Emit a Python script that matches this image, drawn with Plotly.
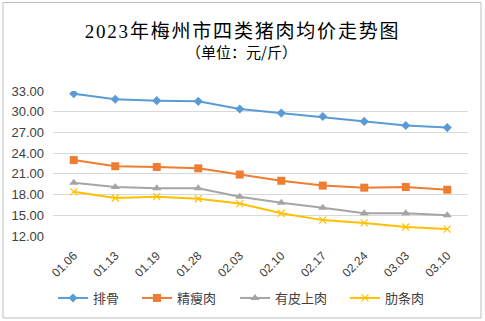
import plotly.graph_objects as go

dates = ["01.06", "01.13", "01.19", "01.28", "02.03", "02.10", "02.17", "02.24", "03.03", "03.10"]
paigu = [32.6, 31.8, 31.6, 31.5, 30.4, 29.8, 29.3, 28.6, 28.0, 27.7]
jingshourou = [23.0, 22.1, 22.0, 21.8, 20.9, 20.0, 19.3, 19.0, 19.1, 18.7]
youpishangrou = [19.7, 19.1, 18.9, 18.9, 17.7, 16.8, 16.1, 15.3, 15.3, 15.0]
leitiaorou = [18.4, 17.5, 17.7, 17.4, 16.7, 15.3, 14.3, 13.9, 13.3, 13.0]
y_ticks = [12, 15, 18, 21, 24, 27, 30, 33]

series = [
    ("排骨", paigu, "#5B9BD5", "diamond", 7),
    ("精瘦肉", jingshourou, "#ED7D31", "square", 8),
    ("有皮上肉", youpishangrou, "#A5A5A5", "triangle-up", 8),
    ("肋条肉", leitiaorou, "#FFC000", "x-thin", 7),
]

W, H = 485, 321
ml, mr, mt, mb = 53, 17, 91, 85
pw, ph = W - ml - mr, H - mt - mb

# legend entry left positions (px)
legend_x = [58, 142, 240, 350]

fig = go.Figure()
legend_layouts = {}
for i, (name, vals, color, sym, size) in enumerate(series):
    marker = dict(symbol=sym, size=size, color=color)
    if sym == "x-thin":
        marker["line"] = dict(color=color, width=1.2)
    lname = "legend" if i == 0 else f"legend{i + 1}"
    fig.add_trace(go.Scatter(
        x=dates, y=vals, name=name, mode="lines+markers",
        line=dict(color=color, width=2), marker=marker, legend=lname,
    ))
    legend_layouts[lname] = dict(
        orientation="h", xref="container", yref="container",
        x=(legend_x[i] - 5) / W, xanchor="left", y=1 - 298 / H, yanchor="middle",
        font=dict(family="Noto Sans CJK SC", size=13, color="#404040"),
        itemwidth=30, bgcolor="rgba(0,0,0,0)",
    )

fig.update_layout(
    width=W, height=H,
    margin=dict(l=ml, r=mr, t=mt, b=mb, autoexpand=False),
    paper_bgcolor="white", plot_bgcolor="white",
    font=dict(family="Liberation Sans, Noto Sans CJK SC", color="#595959", size=12),
    title=dict(
        text="<span style='letter-spacing:1.8px'>2023年梅州市四类猪肉均价走势图</span>",
        x=0.5, xanchor="center", y=1 - 31 / H, yanchor="middle",
        font=dict(family="Liberation Serif, Noto Sans CJK SC", size=19, color="#000000"),
    ),
    showlegend=True,
    xaxis=dict(
        type="category", showgrid=False, showline=False, automargin=False,
        ticks="outside", ticklen=7, tickcolor="rgba(0,0,0,0)",
        tickangle=-45, tickfont=dict(size=12, color="#404040"),
        range=[-0.5, len(dates) - 0.5],
    ),
    yaxis=dict(
        range=[12, 33], tickvals=y_ticks, tickformat=".2f", automargin=False,
        showgrid=True, gridcolor="#D9D9D9", gridwidth=1,
        showline=False, zeroline=False, ticks="",
        ticklabelstandoff=8,
        tickfont=dict(size=13, color="#404040"),
    ),
    annotations=[dict(
        text="（单位：元/斤）", xref="paper", yref="paper",
        x=(241 - ml) / pw, y=(H - mb - 52) / ph, xanchor="center", yanchor="middle",
        showarrow=False,
        font=dict(family="Noto Sans CJK SC", size=15, color="#000000"),
    )],
    shapes=[dict(
        type="rect", xref="paper", yref="paper",
        x0=(3 - ml) / pw, x1=(481 - ml) / pw,
        y0=(H - mb - 318) / ph, y1=(H - mb - 2.5) / ph,
        line=dict(color="#BFBFBF", width=1), fillcolor="rgba(0,0,0,0)", layer="below",
    )],
    **legend_layouts,
)

fig.write_html("out.html")
